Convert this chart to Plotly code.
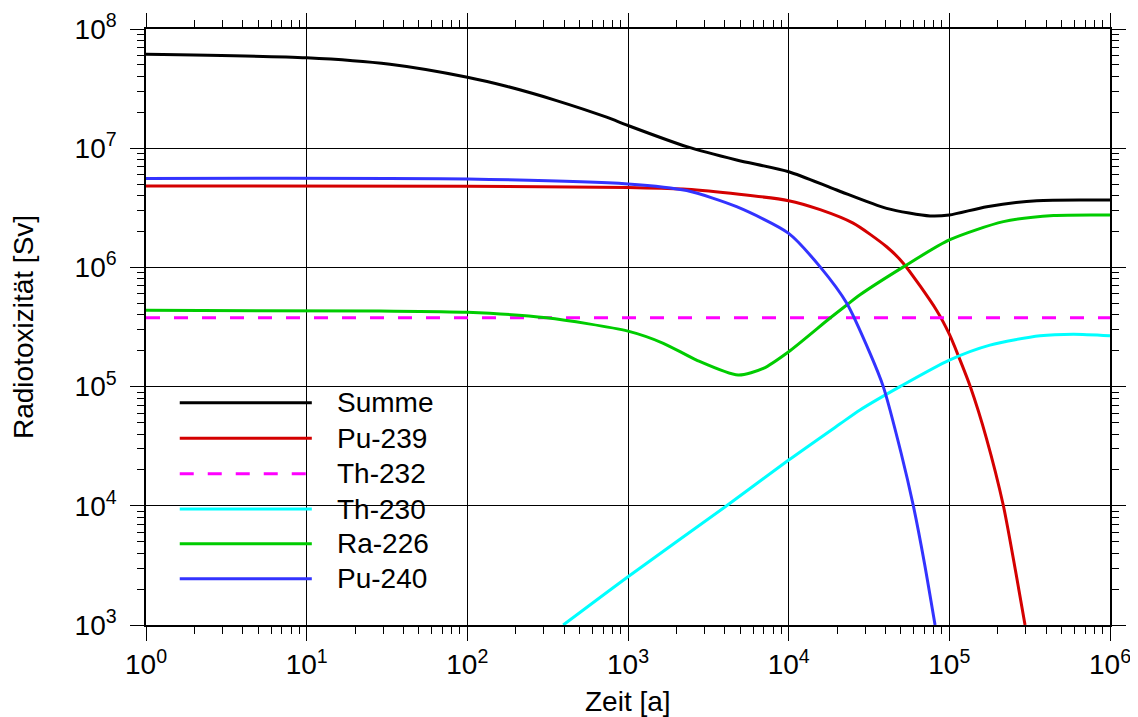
import plotly.graph_objects as go

# ---------------- data ----------------
series_names = ["Summe", "Pu-239", "Th-232", "Th-230", "Ra-226", "Pu-240"]

summe_t = [1, 10, 33, 100, 175, 359, 736, 1000, 2320, 4740, 1.0e4, 1.99e4, 4.07e4, 7.59e4, 1.0e5, 1.71e5, 3.5e5, 1.0e6]
summe_v = [6.14e7, 5.74e7, 5.06e7, 3.94e7, 3.31e7, 2.51e7, 1.82e7, 1.55e7, 1.03e7, 7.96e6, 6.35e6, 4.46e6, 3.13e6, 2.70e6, 2.75e6, 3.23e6, 3.63e6, 3.67e6]

pu239_t = [1, 100, 1000, 2320, 1.0e4, 1.57e4, 2.52e4, 4.07e4, 5.18e4, 8.34e4, 1.0e5, 1.14e5, 1.35e5, 1.7e5, 2.17e5, 2.6e5, 2.96e5]
pu239_v = [4.82e6, 4.80e6, 4.67e6, 4.52e6, 3.63e6, 3.05e6, 2.35e6, 1.49e6, 1.08e6, 4.35e5, 2.75e5, 1.80e5, 1.0e5, 3.7e4, 1.0e4, 2.7e3, 1.0e3]

th232_t = [1, 1.0e6]
th232_v = [3.78e5, 3.78e5]

th230_t = [395, 1000, 4110, 1.0e4, 2.08e4, 2.78e4, 4.93e4, 1.0e5, 1.79e5, 3.67e5, 5.92e5, 1.0e6]
th230_v = [1.0e3, 2.54e3, 1.0e4, 2.42e4, 4.85e4, 6.37e4, 1.0e5, 1.67e5, 2.23e5, 2.67e5, 2.75e5, 2.67e5]

ra226_t = [1, 28.5, 100, 311, 1000, 1660, 2670, 4850, 6950, 1.0e4, 1.81e4, 2.30e4, 2.78e4, 5.18e4, 1.0e5, 2.17e5, 4.45e5, 1.0e6]
ra226_v = [4.37e5, 4.3e5, 4.2e5, 3.78e5, 2.92e5, 2.31e5, 1.67e5, 1.25e5, 1.42e5, 1.96e5, 3.76e5, 4.84e5, 5.89e5, 1.01e6, 1.70e6, 2.42e6, 2.72e6, 2.75e6]

pu240_t = [1, 100, 1000, 2320, 4740, 1.0e4, 1.57e4, 2.30e4, 3.21e4, 3.88e4, 5.0e4, 5.97e4, 7.0e4, 8.15e4]
pu240_v = [5.58e6, 5.52e6, 5.02e6, 4.41e6, 3.23e6, 1.93e6, 1.01e6, 5.0e5, 1.9e5, 1.0e5, 2.8e4, 1.0e4, 3.3e3, 1.0e3]

x_tick_vals = [1, 10, 100, 1e3, 1e4, 1e5, 1e6]
x_tick_text = ["10<sup>0</sup>", "10<sup>1</sup>", "10<sup>2</sup>", "10<sup>3</sup>",
               "10<sup>4</sup>", "10<sup>5</sup>", "10<sup>6</sup>"]
y_tick_vals = [1e3, 1e4, 1e5, 1e6, 1e7, 1e8]
y_tick_text = ["10<sup>3</sup>", "10<sup>4</sup>", "10<sup>5</sup>", "10<sup>6</sup>",
               "10<sup>7</sup>", "10<sup>8</sup>"]

x_title = "Zeit [a]"
y_title = "Radiotoxizität [Sv]"

# ---------------- styling ----------------
colors = ["#000000", "#d40000", "#ff00ff", "#00ffff", "#00cc00", "#3333ff"]
dashes = ["solid", "solid", "14px,14px", "solid", "solid", "solid"]
FONT = "Arial, Liberation Sans, sans-serif"

data = [(summe_t, summe_v), (pu239_t, pu239_v), (th232_t, th232_v),
        (th230_t, th230_v), (ra226_t, ra226_v), (pu240_t, pu240_v)]

fig = go.Figure()
for name, (t, v), c, d in zip(series_names, data, colors, dashes):
    fig.add_trace(go.Scatter(
        x=t, y=v, mode="lines", name=name, showlegend=False,
        line=dict(color=c, width=3, dash=d, shape="spline", smoothing=0.7),
    ))

minor_x = [m * 10 ** k for k in range(0, 6) for m in range(2, 10)]
minor_y = [m * 10 ** k for k in range(3, 8) for m in range(2, 10)]

axis_common = dict(
    type="log", tickmode="array", ticks="outside", ticklen=14, tickwidth=1,
    tickcolor="black", showline=True, linecolor="black", linewidth=1.5,
    mirror="ticks", showgrid=True, gridcolor="black", gridwidth=1,
    zeroline=False, automargin=False,
    tickfont=dict(family=FONT, size=28, color="black"),
)

X_RANGE = [0, 6]
Y_RANGE = [3, 8]

fig.update_xaxes(
    range=X_RANGE, tickvals=x_tick_vals, ticktext=x_tick_text,
    minor=dict(tickmode="array", tickvals=minor_x, ticks="outside", ticklen=7,
               tickwidth=1, tickcolor="black", showgrid=False),
    **axis_common,
)
fig.update_yaxes(
    range=Y_RANGE, tickvals=y_tick_vals, ticktext=y_tick_text,
    ticklabelstandoff=8,
    minor=dict(tickmode="array", tickvals=minor_y, ticks="outside", ticklen=7,
               tickwidth=1, tickcolor="black", showgrid=False),
    **axis_common,
)

# ---------------- manual legend ----------------
# white legend box (between gridlines and traces), in log-axis units
box_fx, box_fy = 0.3276, 0.4614
shapes = [dict(type="rect", xref="x", yref="y",
               x0=X_RANGE[0], x1=X_RANGE[0] + box_fx * (X_RANGE[1] - X_RANGE[0]),
               y0=Y_RANGE[0], y1=Y_RANGE[0] + box_fy * (Y_RANGE[1] - Y_RANGE[0]),
               fillcolor="white", line=dict(width=0), layer="between")]
annotations = []
leg_y = [0.373, 0.3133, 0.2539, 0.1946, 0.1364, 0.0777]
for name, c, d, yy in zip(series_names, colors, dashes, leg_y):
    shapes.append(dict(type="line", xref="x domain", yref="y domain", x0=0.035, x1=0.172,
                       y0=yy, y1=yy, line=dict(color=c, width=3, dash=d), layer="above"))
    annotations.append(dict(xref="x domain", yref="y domain", x=0.1959, y=yy, text=name,
                            showarrow=False, xanchor="left", yanchor="middle",
                            font=dict(family=FONT, size=28, color="black")))

annotations.append(dict(xref="paper", yref="paper", x=0.5, y=-0.128, text=x_title,
                        showarrow=False, xanchor="center", yanchor="middle",
                        borderpad=0,
                        font=dict(family=FONT, size=28, color="black")))
annotations.append(dict(xref="paper", yref="paper", x=-0.1276, y=0.5, text=y_title,
                        showarrow=False, xanchor="center", yanchor="middle", textangle=-90,
                        font=dict(family=FONT, size=28, color="black")))

# page body adds an 8px margin, so the figure is 8px smaller and margins shifted
fig.update_layout(
    width=1130, height=709,
    margin=dict(l=138, r=28, t=21, b=92, autoexpand=False),
    paper_bgcolor="white", plot_bgcolor="white",
    showlegend=False, shapes=shapes, annotations=annotations,
    font=dict(family=FONT, size=28, color="black"),
)

fig.write_html("out.html")
